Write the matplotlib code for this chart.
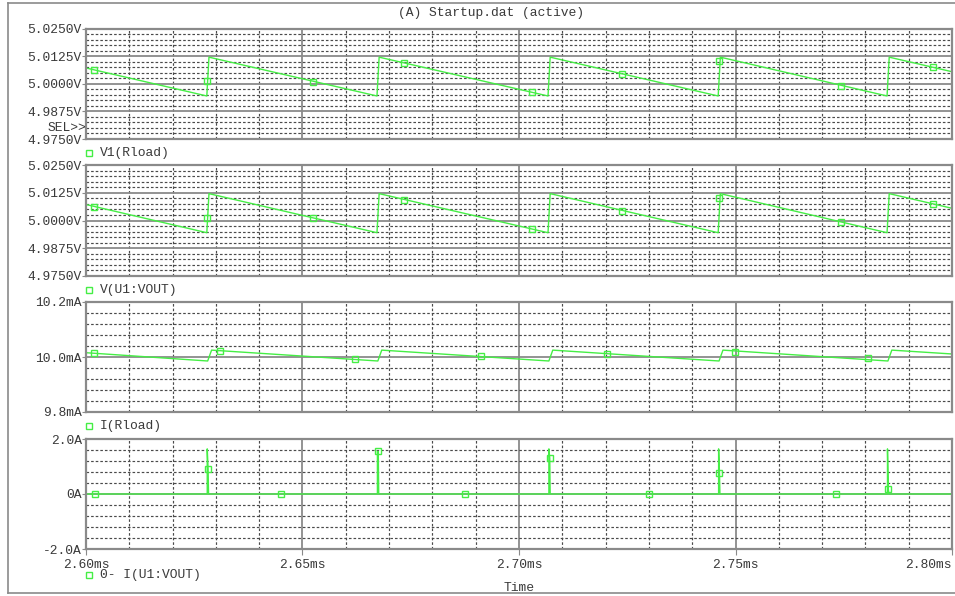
import matplotlib.pyplot as plt
from matplotlib.lines import Line2D
import numpy as np

# ramp corners of V1(Rload) and V(U1:VOUT), time in ms, volts
v_t = [2.6000, 2.6279, 2.6284, 2.6672, 2.6677, 2.7067, 2.7072, 2.7460, 2.7465, 2.7850, 2.7855, 2.8000]
v_v = [5.0072, 4.9945, 5.0121, 4.9945, 5.0121, 4.9945, 5.0121, 4.9945, 5.0121, 4.9945, 5.0121, 5.0055]
v_mark_t = [2.6019, 2.6280, 2.6524, 2.6734, 2.7029, 2.7237, 2.7461, 2.7744, 2.7955]
v_mark_v = [5.0063, 5.0011, 5.0010, 5.0094, 4.9961, 5.0044, 5.0102, 4.9992, 5.0075]

# load current I(Rload), mA
i_t = [2.6000, 2.6281, 2.6290, 2.6674, 2.6683, 2.7069, 2.7078, 2.7462, 2.7471, 2.7852, 2.7861, 2.8000]
i_v = [10.0156, 9.9855, 10.0250, 9.9855, 10.0250, 9.9855, 10.0250, 9.9855, 10.0250, 9.9855, 10.0250, 10.0110]
i_mark_t = [2.6019, 2.6310, 2.6621, 2.6912, 2.7203, 2.7499, 2.7806]
i_mark_v = [10.0145, 10.0230, 9.9927, 10.0036, 10.0110, 10.0180, 9.9960]

# regulator output current 0- I(U1:VOUT), A
spike_t = [2.6280, 2.6673, 2.7069, 2.7461, 2.7851]
spike_peak = [1.64, 1.55, 1.64, 1.64, 1.64]
spike_settle = [0.90, 1.55, 1.30, 0.76, 0.18]
zero_mark_t = [2.6021, 2.6450, 2.6875, 2.7300, 2.7732]

names = ["V1(Rload)", "V(U1:VOUT)", "I(Rload)", "0- I(U1:VOUT)"]

GREEN = '#45ee45'
GRAY = '#8a8a8a'
TXT = '#3a3a3a'
FONT = 'Liberation Mono'
FS = 9.4

W, H = 955, 596
fig = plt.figure(figsize=(W / 100, H / 100), dpi=100)
fig.patch.set_facecolor('white')

def fx(x):
    return x / W

def fy(y):
    return 1 - y / H

# panel boxes in pixels: (top, bottom)
boxes = [(28.7, 139), (165, 276), (302, 412), (439, 549)]
left, right = 86, 952

def make_panel(top, bottom, ylim, ymaj, ymin, ylabels, show_x):
    ax = fig.add_axes([fx(left), fy(bottom), (right - left) / W, (bottom - top) / H])
    ax.set_xlim(2.60, 2.80)
    ax.set_ylim(*ylim)
    ax.set_xticks(np.round(np.arange(2.60, 2.8001, 0.05), 2))
    ax.set_xticks(np.round(np.arange(2.60, 2.8001, 0.01), 2), minor=True)
    ax.set_yticks(ymaj)
    ax.set_yticks(ymin, minor=True)
    ax.set_yticklabels(ylabels, fontfamily=FONT, fontsize=FS, color=TXT)
    ax.grid(True, which='major', color=GRAY, lw=1.3, ls='-')
    ax.grid(True, which='minor', color='#4a4a4a', lw=0.85, ls=(0, (2.2, 1.7)))
    ax.set_axisbelow(True)
    for s in ax.spines.values():
        s.set_color(GRAY)
        s.set_linewidth(1.6)
    ax.tick_params(which='minor', length=0)
    ax.tick_params(axis='y', which='major', length=3, color=GRAY, pad=0)
    if show_x:
        ax.set_xticklabels(["2.60ms", "2.65ms", "2.70ms", "2.75ms", "2.80ms"],
                           fontfamily=FONT, fontsize=FS, color=TXT)
        ax.tick_params(axis='x', which='major', length=4, color=GRAY, pad=3)
        labs = ax.get_xticklabels()
        labs[-1].set_horizontalalignment('right')
    else:
        ax.tick_params(axis='x', which='major', length=0, labelbottom=False)
    return ax

vmaj = [4.975, 4.9875, 5.0, 5.0125, 5.025]
vmin = np.arange(4.975, 5.0251, 0.0025)
vlab = ["4.9750V", "4.9875V", "5.0000V", "5.0125V", "5.0250V"]

ax1 = make_panel(*boxes[0], (4.975, 5.025), vmaj, vmin, vlab, False)
ax2 = make_panel(*boxes[1], (4.975, 5.025), vmaj, vmin, vlab, False)
ax3 = make_panel(*boxes[2], (9.8, 10.2), [9.8, 10.0, 10.2], np.arange(9.8, 10.201, 0.04),
                 ["9.8mA", "10.0mA", "10.2mA"], False)
ax4 = make_panel(*boxes[3], (-2.0, 2.0), [-2.0, 0.0, 2.0], np.arange(-2.0, 2.01, 0.4),
                 ["-2.0A", "0A", "2.0A"], True)

mk = dict(marker='s', ms=4.4, mfc='none', mec=GREEN, mew=1.0, ls='none')

for ax in (ax1, ax2):
    ax.plot(v_t, v_v, color=GREEN, lw=1.0)
    ax.plot(v_mark_t, v_mark_v, **mk)

ax3.plot(i_t, i_v, color=GREEN, lw=1.0)
ax3.plot(i_mark_t, i_mark_v, **mk)

# build the spike trace from the spike table
st, sv = [2.60], [0.0]
mt, mv = [], []
for t0, pk, se in zip(spike_t, spike_peak, spike_settle):
    st += [t0, t0, t0 + 0.0002, t0 + 0.0003]
    sv += [0.0, pk, se, 0.0]
    mt.append(t0 + 0.0002)
    mv.append(se)
st.append(2.80)
sv.append(0.0)
ax4.plot(st, sv, color=GREEN, lw=1.0)
ax4.plot(zero_mark_t, [0.0] * len(zero_mark_t), **mk)
ax4.plot(mt, mv, **mk)

# trace names under each panel
leg_y = [153, 290, 426, 575]
for name, y in zip(names, leg_y):
    fig.add_artist(Line2D([fx(89)], [fy(y)], marker='s', ms=3.8, mfc='none',
                          mec=GREEN, mew=1.0, ls='none', transform=fig.transFigure))
    fig.text(fx(100), fy(y), name, fontfamily=FONT, fontsize=FS, color=TXT,
             ha='left', va='center')

fig.text(fx(86), fy(128), "SEL>>", fontfamily=FONT, fontsize=FS, color=TXT,
         ha='right', va='center')
fig.text(fx(491), fy(13), "(A) Startup.dat (active)", fontfamily=FONT, fontsize=FS,
         color=TXT, ha='center', va='center')
fig.text(fx(519), fy(588), "Time", fontfamily=FONT, fontsize=FS, color=TXT,
         ha='center', va='center')

# window frame
for xs, ys in (([8, 955], [2.5, 2.5]), ([8, 8], [2.5, 593]), ([8, 955], [593, 593])):
    fig.add_artist(Line2D([fx(x) for x in xs], [fy(y) for y in ys], color=GRAY,
                          lw=1.2, transform=fig.transFigure))

fig.savefig('out.png', dpi=100, facecolor='white')
